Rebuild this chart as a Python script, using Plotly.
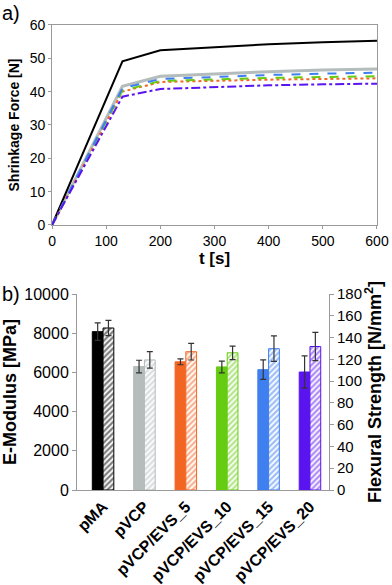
"""Shrinkage force over time (a) and E-modulus / flexural strength per resin (b)."""

import plotly.graph_objects as go

# ---- panel a: shrinkage force vs time ----
TIME_S = [0, 130, 200, 300, 400, 500, 600]
FORCE_PMA = [0, 49.1, 52.4, 53.4, 54.2, 54.8, 55.3]
FORCE_PVCP = [0, 41.6, 44.6, 45.4, 46.0, 46.5, 46.8]
FORCE_EVS_5 = [0, 40.0, 42.9, 43.3, 43.6, 43.8, 44.0]
FORCE_EVS_10 = [0, 40.3, 43.2, 43.7, 44.1, 44.4, 44.6]
FORCE_EVS_15 = [0, 41.0, 43.8, 44.5, 45.0, 45.4, 45.7]
FORCE_EVS_20 = [0, 38.5, 40.8, 41.4, 41.9, 42.2, 42.4]

# ---- panel b: mechanical properties ----
SAMPLES = ["pMA", "pVCP", "pVCP/EVS_5", "pVCP/EVS_10", "pVCP/EVS_15", "pVCP/EVS_20"]
E_MODULUS = [8080, 6300, 6540, 6280, 6140, 6020]
E_MODULUS_ERR = [450, 320, 150, 300, 500, 820]
FLEX_STRENGTH = [148.8, 119.5, 127.0, 126.0, 129.8, 131.8]
FLEX_STRENGTH_ERR = [7.0, 7.5, 7.6, 6.2, 11.7, 13.0]

SAMPLE_COLORS = ["#000000", "#b4bcbc", "#f26522", "#66cc11", "#3f7ff0", "#5a14f0"]
LINE_DASHES = ["solid", "solid", "dot", "dash", "dash", "dashdot"]
LINE_WIDTHS = [2, 3, 2, 2, 2, 2]

FONT = "Liberation Sans, Arial, sans-serif"
AXIS_GREY = "#9a9a9a"

fig = go.Figure()

force_series = [FORCE_PMA, FORCE_PVCP, FORCE_EVS_5, FORCE_EVS_10, FORCE_EVS_15, FORCE_EVS_20]
# draw the grey pVCP line first so the others sit on top of it
draw_order = [1, 0, 2, 3, 4, 5]
for i in draw_order:
    fig.add_trace(
        go.Scatter(
            x=TIME_S,
            y=force_series[i],
            name=SAMPLES[i],
            mode="lines",
            line=dict(color=SAMPLE_COLORS[i], dash=LINE_DASHES[i], width=LINE_WIDTHS[i]),
            xaxis="x",
            yaxis="y",
            showlegend=False,
        )
    )

# solid bars: E-modulus on the left axis
fig.add_trace(
    go.Bar(
        x=SAMPLES,
        y=E_MODULUS,
        width=0.26,
        offset=-0.26,
        marker=dict(color=SAMPLE_COLORS, line=dict(color=SAMPLE_COLORS, width=1)),
        error_y=dict(type="data", array=E_MODULUS_ERR, color="#333333", thickness=1.2, width=3),
        xaxis="x2",
        yaxis="y3",
        showlegend=False,
    )
)

# hatched bars: flexural strength on the right axis
fig.add_trace(
    go.Bar(
        x=SAMPLES,
        y=FLEX_STRENGTH,
        width=0.26,
        offset=0,
        marker=dict(
            color="white",
            line=dict(color=SAMPLE_COLORS, width=1),
            pattern=dict(
                shape="/",
                bgcolor="white",
                fgcolor=SAMPLE_COLORS,
                size=4,
                solidity=0.55,
            ),
        ),
        error_y=dict(type="data", array=FLEX_STRENGTH_ERR, color="#333333", thickness=1.2, width=3),
        xaxis="x2",
        yaxis="y4",
        showlegend=False,
    )
)

tick_font = dict(family=FONT, size=14, color="black")

fig.update_layout(
    width=392,
    height=585,
    margin=dict(l=0, r=0, t=0, b=0),
    paper_bgcolor="white",
    plot_bgcolor="white",
    font=dict(family=FONT, color="black"),
    xaxis=dict(
        domain=[0.1327, 0.9617],
        anchor="y",
        range=[0, 600],
        dtick=100,
        automargin=False,
        showgrid=False,
        zeroline=False,
        showline=True,
        mirror=True,
        linecolor=AXIS_GREY,
        linewidth=1,
        ticks="outside",
        ticklen=3,
        tickcolor=AXIS_GREY,
        tickfont=tick_font,
        title=dict(text="<b>t [s]</b>", font=dict(family=FONT, size=17), standoff=4),
    ),
    yaxis=dict(
        domain=[0.6154, 0.9573],
        anchor="x",
        range=[0, 60],
        dtick=10,
        automargin=False,
        showgrid=False,
        zeroline=False,
        showline=True,
        mirror=True,
        linecolor=AXIS_GREY,
        linewidth=1,
        ticks="outside",
        ticklen=3,
        tickcolor=AXIS_GREY,
        tickfont=tick_font,
        title=dict(text="<b>Shrinkage Force [N]</b>", font=dict(family=FONT, size=14), standoff=6),
    ),
    xaxis2=dict(
        domain=[0.1964, 0.8393],
        anchor="y3",
        type="category",
        range=[-0.63, 5.46],
        automargin=False,
        showgrid=False,
        showline=True,
        linecolor=AXIS_GREY,
        linewidth=1,
        ticks="",
        tickangle=-45,
        tickfont=dict(family=FONT, size=16, color="black", weight="bold"),
    ),
    yaxis3=dict(
        domain=[0.1624, 0.4974],
        anchor="x2",
        range=[0, 10000],
        dtick=2000,
        tickformat="d",
        automargin=False,
        showgrid=False,
        zeroline=False,
        showline=True,
        linecolor=AXIS_GREY,
        linewidth=1,
        ticks="outside",
        ticklen=4,
        tickcolor=AXIS_GREY,
        tickfont=dict(family=FONT, size=16, color="black"),
        title=dict(text="<b>E-Modulus [MPa]</b>", font=dict(family=FONT, size=18), standoff=2),
    ),
    yaxis4=dict(
        overlaying="y3",
        anchor="x2",
        side="right",
        range=[0, 180],
        dtick=20,
        automargin=False,
        showgrid=False,
        zeroline=False,
        showline=True,
        linecolor=AXIS_GREY,
        linewidth=1,
        ticks="outside",
        ticklen=4,
        tickcolor=AXIS_GREY,
        tickfont=dict(family=FONT, size=15, color="black"),
        title=dict(
            text="<b>Flexural Strength [N/mm<sup>2</sup>]</b>",
            font=dict(family=FONT, size=18),
            standoff=4,
        ),
    ),
    annotations=[
        dict(
            text="a)",
            xref="paper",
            yref="paper",
            x=0.0,
            y=1.0,
            xanchor="left",
            yanchor="top",
            showarrow=False,
            font=dict(family=FONT, size=20, color="black"),
        ),
        dict(
            text="b)",
            xref="paper",
            yref="paper",
            x=0.0,
            y=0.52,
            xanchor="left",
            yanchor="top",
            showarrow=False,
            font=dict(family=FONT, size=20, color="black"),
        ),
    ],
)

# drop the default 8px page margin so the figure fills the window exactly
fig.write_html(
    "out.html",
    config={"displayModeBar": False},
    post_script="document.body.style.margin='0';document.body.style.overflow='hidden';",
)
